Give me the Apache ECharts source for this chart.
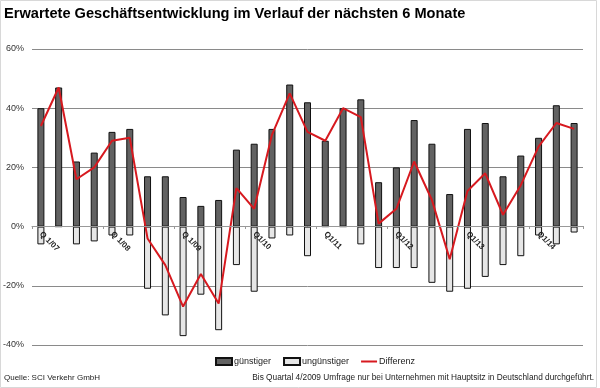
<!DOCTYPE html>
<html>
<head>
<meta charset="utf-8">
<script src="https://cdn.jsdelivr.net/npm/echarts@6/dist/echarts.min.js"></script>
<style>
html,body{margin:0;padding:0;background:#fff;}
#c{width:600px;height:388px;}
</style>
</head>
<body>
<div id="c"></div>
<script>
const categories = [
  "Q 1/07","Q 2/07","Q 3/07","Q 4/07",
  "Q 1/08","Q 2/08","Q 3/08","Q 4/08",
  "Q 1/09","Q 2/09","Q 3/09","Q 4/09",
  "Q1/10","Q2/10","Q3/10","Q4/10",
  "Q1/11","Q2/11","Q3/11","Q4/11",
  "Q1/12","Q2/12","Q3/12","Q4/12",
  "Q1/13","Q2/13","Q3/13","Q4/13",
  "Q1/14","Q2/14","Q3/14"
];
const guenstiger = [40,47,22,25,32,33,17,17,10,7,9,26,28,33,48,42,29,40,43,15,20,36,28,11,33,35,17,24,30,41,35];
const unguenstiger = [-6,0,-6,-5,-3,-3,-21,-30,-37,-23,-35,-13,-22,-4,-3,-10,0,0,-6,-14,-14,-14,-19,-22,-21,-17,-13,-10,-3,-6,-2];
const differenz = [34,47,16,20,29,30,-4,-13,-27,-16,-26,13,6,31,45,32,29,40,37,1,6,22,9,-11,12,18,4,14,27,35,33];
const yTicks = [-40,-20,0,20,40,60];

const chart = echarts.init(document.getElementById('c'), null, {renderer:'canvas'});
const FONT = 'Liberation Sans, Arial, sans-serif';
chart.setOption({
  animation:false,
  backgroundColor:'#fff',
  textStyle:{fontFamily:FONT},
  title:{
    text:'Erwartete Geschäftsentwicklung im Verlauf der nächsten 6 Monate',
    left:-1, top:1,
    textStyle:{fontFamily:FONT,fontSize:14.6,fontWeight:'bold',color:'#000'}
  },
  legend:{
    left:210, top:352,
    itemGap:12, itemWidth:16, itemHeight:7,
    textStyle:{fontFamily:FONT,fontSize:9,color:'#222',padding:[0,0,0,-3]},
    data:[
      {name:'günstiger', icon:'rect'},
      {name:'ungünstiger', icon:'rect'},
      {name:'Differenz', icon:'path://M0,0 L16,0 L16,2 L0,2 Z', itemStyle:{color:'#d7191f'}}
    ]
  },
  grid:{left:30, right:17, top:49, bottom:43, containLabel:false},
  xAxis:{
    type:'category',
    data:categories,
    offset:-119,
    z:10,
    axisLine:{onZero:false, lineStyle:{color:'#999',width:1}},
    axisTick:{show:true, length:3, lineStyle:{color:'#999'}},
    axisLabel:{
      interval:function(i){return i%4===0;},
      rotate:-45, margin:7,
      fontFamily:FONT, fontSize:8, fontWeight:'bold', color:'#222'
    },
    splitLine:{show:false}
  },
  yAxis:{
    type:'value', min:-40, max:60, interval:20,
    axisLine:{show:false}, axisTick:{show:false},
    axisLabel:{formatter:function(v){return yTicks.indexOf(v)>=0? v+'%':'';}, fontFamily:FONT, fontSize:9, color:'#333', margin:8},
    splitLine:{show:true, lineStyle:{color:'#8a8a8a',width:1}}
  },
  series:[
    {name:'günstiger', type:'bar', data:guenstiger, barWidth:7, barGap:'-100%',
     itemStyle:{color:'#626262', borderColor:'#111', borderWidth:1}},
    {name:'ungünstiger', type:'bar', data:unguenstiger, barWidth:7, barGap:'-100%',
     itemStyle:{color:'#e6e6e6', borderColor:'#111', borderWidth:1}},
    {name:'Differenz', type:'line', data:differenz, showSymbol:false, symbol:'none',
     lineStyle:{color:'#d7191f', width:2}, itemStyle:{color:'#d7191f'}, z:5}
  ],
  graphic:[
    {type:'rect', shape:{x:0.5,y:0.5,width:596,height:387}, style:{fill:null, stroke:'#d8d8d8', lineWidth:1}, silent:true},
    {type:'text', left:4, top:374, style:{text:'Quelle: SCI Verkehr GmbH', font:'8px '+FONT, fill:'#222'}},
    {type:'text', right:6, top:374, style:{text:'Bis Quartal 4/2009 Umfrage nur bei Unternehmen mit Hauptsitz in Deutschland durchgeführt.', font:'8.3px '+FONT, fill:'#222'}}
  ]
});
</script>
</body>
</html>
